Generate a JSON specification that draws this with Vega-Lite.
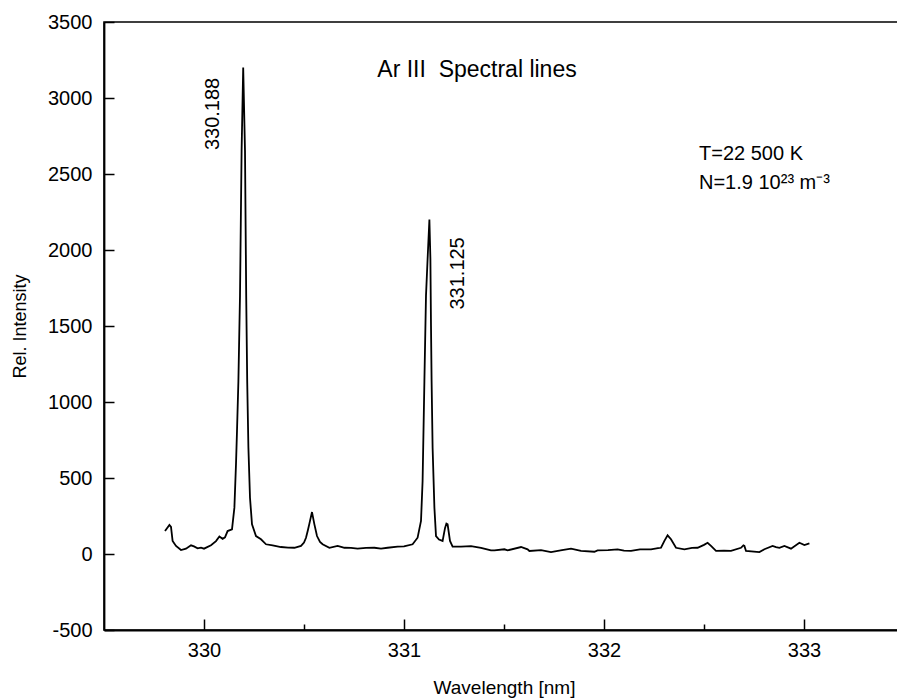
{
  "$schema": "https://vega.github.io/schema/vega-lite/v6.json",
  "width": 800,
  "height": 608,
  "autosize": {"type": "none"},
  "padding": {"left": 104, "top": 22, "right": 0, "bottom": 69},
  "background": "white",
  "config": {
    "view": {"stroke": "black", "strokeWidth": 1.6},
    "font": "Liberation Sans",
    "axis": {"domainColor": "black", "domainWidth": 1.8, "tickColor": "black", "tickWidth": 1.5, "labelColor": "black", "titleColor": "black", "grid": false, "labelFont": "Liberation Sans", "titleFont": "Liberation Sans", "titleFontWeight": "normal"}
  },
  "datasets": {
    "spectrum": [
      {"wl": 329.805, "I": 151}, {"wl": 329.827, "I": 191}, {"wl": 329.835, "I": 178}, {"wl": 329.843, "I": 86},
      {"wl": 329.860, "I": 53}, {"wl": 329.885, "I": 26}, {"wl": 329.910, "I": 35}, {"wl": 329.935, "I": 57},
      {"wl": 329.950, "I": 50}, {"wl": 329.968, "I": 37}, {"wl": 329.985, "I": 42}, {"wl": 330.000, "I": 35},
      {"wl": 330.035, "I": 58}, {"wl": 330.060, "I": 85}, {"wl": 330.077, "I": 115}, {"wl": 330.093, "I": 100},
      {"wl": 330.105, "I": 110}, {"wl": 330.118, "I": 151}, {"wl": 330.140, "I": 162}, {"wl": 330.152, "I": 305},
      {"wl": 330.160, "I": 592}, {"wl": 330.165, "I": 809}, {"wl": 330.172, "I": 1138}, {"wl": 330.180, "I": 1700},
      {"wl": 330.188, "I": 2652}, {"wl": 330.196, "I": 3200}, {"wl": 330.205, "I": 2652}, {"wl": 330.211, "I": 1700},
      {"wl": 330.216, "I": 1138}, {"wl": 330.222, "I": 700}, {"wl": 330.230, "I": 370}, {"wl": 330.240, "I": 195},
      {"wl": 330.260, "I": 118}, {"wl": 330.285, "I": 97}, {"wl": 330.310, "I": 64}, {"wl": 330.343, "I": 57},
      {"wl": 330.385, "I": 46}, {"wl": 330.420, "I": 42}, {"wl": 330.452, "I": 41}, {"wl": 330.485, "I": 53},
      {"wl": 330.500, "I": 75}, {"wl": 330.510, "I": 107}, {"wl": 330.520, "I": 160}, {"wl": 330.527, "I": 200},
      {"wl": 330.540, "I": 276}, {"wl": 330.552, "I": 195}, {"wl": 330.565, "I": 118}, {"wl": 330.580, "I": 80},
      {"wl": 330.593, "I": 64}, {"wl": 330.627, "I": 41}, {"wl": 330.668, "I": 53}, {"wl": 330.690, "I": 45},
      {"wl": 330.702, "I": 41}, {"wl": 330.735, "I": 40}, {"wl": 330.768, "I": 35}, {"wl": 330.810, "I": 40},
      {"wl": 330.852, "I": 41}, {"wl": 330.885, "I": 35}, {"wl": 330.918, "I": 41}, {"wl": 330.968, "I": 48},
      {"wl": 331.000, "I": 50}, {"wl": 331.043, "I": 64}, {"wl": 331.068, "I": 107}, {"wl": 331.085, "I": 217},
      {"wl": 331.093, "I": 480}, {"wl": 331.102, "I": 1138}, {"wl": 331.110, "I": 1700}, {"wl": 331.118, "I": 1941},
      {"wl": 331.127, "I": 2200}, {"wl": 331.132, "I": 1941}, {"wl": 331.135, "I": 1500}, {"wl": 331.138, "I": 1138},
      {"wl": 331.143, "I": 700}, {"wl": 331.152, "I": 305}, {"wl": 331.160, "I": 118}, {"wl": 331.175, "I": 95},
      {"wl": 331.193, "I": 86}, {"wl": 331.205, "I": 170}, {"wl": 331.212, "I": 200}, {"wl": 331.218, "I": 195},
      {"wl": 331.230, "I": 86}, {"wl": 331.243, "I": 48}, {"wl": 331.285, "I": 48}, {"wl": 331.335, "I": 52},
      {"wl": 331.385, "I": 41}, {"wl": 331.435, "I": 24}, {"wl": 331.452, "I": 24}, {"wl": 331.502, "I": 31},
      {"wl": 331.518, "I": 24}, {"wl": 331.585, "I": 46}, {"wl": 331.618, "I": 31}, {"wl": 331.627, "I": 20},
      {"wl": 331.685, "I": 26}, {"wl": 331.735, "I": 13}, {"wl": 331.790, "I": 25}, {"wl": 331.835, "I": 35},
      {"wl": 331.885, "I": 20}, {"wl": 331.952, "I": 15}, {"wl": 331.968, "I": 24}, {"wl": 332.020, "I": 25},
      {"wl": 332.068, "I": 31}, {"wl": 332.100, "I": 22}, {"wl": 332.135, "I": 20}, {"wl": 332.180, "I": 30},
      {"wl": 332.235, "I": 31}, {"wl": 332.270, "I": 38}, {"wl": 332.285, "I": 41}, {"wl": 332.302, "I": 86},
      {"wl": 332.318, "I": 123}, {"wl": 332.335, "I": 97}, {"wl": 332.360, "I": 41}, {"wl": 332.402, "I": 31},
      {"wl": 332.440, "I": 40}, {"wl": 332.468, "I": 41}, {"wl": 332.500, "I": 60}, {"wl": 332.518, "I": 74},
      {"wl": 332.535, "I": 53}, {"wl": 332.560, "I": 20}, {"wl": 332.600, "I": 22}, {"wl": 332.635, "I": 20},
      {"wl": 332.685, "I": 41}, {"wl": 332.697, "I": 57}, {"wl": 332.702, "I": 53}, {"wl": 332.710, "I": 20},
      {"wl": 332.777, "I": 13}, {"wl": 332.802, "I": 31}, {"wl": 332.843, "I": 53}, {"wl": 332.860, "I": 45},
      {"wl": 332.877, "I": 41}, {"wl": 332.902, "I": 53}, {"wl": 332.935, "I": 35}, {"wl": 332.977, "I": 74},
      {"wl": 333.002, "I": 59}, {"wl": 333.027, "I": 70}
    ],
    "peaks": [
      {"wl": 330.045, "I": 2895, "label": "330.188"},
      {"wl": 331.268, "I": 1846, "label": "331.125"}
    ],
    "notes": [
      {"wl": 332.475, "I": 2593, "label": "T=22 500 K"},
      {"wl": 332.475, "I": 2402, "label": "N=1.9 10²³ m⁻³"}
    ],
    "titles": [
      {"wl": 331.365, "I": 3185, "label": "Ar III\u00a0 Spectral lines"}
    ]
  },
  "layer": [
    {
      "data": {"name": "spectrum"},
      "mark": {"type": "line", "color": "black", "strokeWidth": 1.8, "clip": true},
      "encoding": {
        "x": {
          "field": "wl", "type": "quantitative",
          "scale": {"domain": [329.5, 333.5], "nice": false, "zero": false},
          "axis": {
            "title": "Wavelength [nm]", "titleFontSize": 19, "titlePadding": 18,
            "values": [330, 330.5, 331, 331.5, 332, 332.5, 333],
            "labelExpr": "datum.value % 1 === 0 ? '' + datum.value : ''",
            "labelFontSize": 20, "labelPadding": 21,
            "tickSize": {"condition": {"test": "datum.value % 1 === 0", "value": -11}, "value": -6}
          }
        },
        "y": {
          "field": "I", "type": "quantitative",
          "scale": {"domain": [-500, 3500], "nice": false, "zero": false},
          "axis": {
            "title": "Rel. Intensity", "titleFontSize": 18, "titleX": -79, "titleBaseline": "alphabetic",
            "values": [-500, -250, 0, 250, 500, 750, 1000, 1250, 1500, 1750, 2000, 2250, 2500, 2750, 3000, 3250, 3500],
            "labelExpr": "datum.value % 500 === 0 ? '' + datum.value : ''",
            "labelFontSize": 20, "labelPadding": 22,
            "tickSize": {"condition": {"test": "datum.value % 500 === 0", "value": -10}, "value": -5}
          }
        }
      }
    },
    {
      "data": {"name": "peaks"},
      "mark": {"type": "text", "angle": 270, "align": "center", "baseline": "middle", "fontSize": 20, "color": "black"},
      "encoding": {
        "x": {"field": "wl", "type": "quantitative"},
        "y": {"field": "I", "type": "quantitative"},
        "text": {"field": "label"}
      }
    },
    {
      "data": {"name": "notes"},
      "mark": {"type": "text", "align": "left", "baseline": "alphabetic", "fontSize": 20, "color": "black"},
      "encoding": {
        "x": {"field": "wl", "type": "quantitative"},
        "y": {"field": "I", "type": "quantitative"},
        "text": {"field": "label"}
      }
    },
    {
      "data": {"name": "titles"},
      "mark": {"type": "text", "align": "center", "baseline": "middle", "fontSize": 23, "color": "black"},
      "encoding": {
        "x": {"field": "wl", "type": "quantitative"},
        "y": {"field": "I", "type": "quantitative"},
        "text": {"field": "label"}
      }
    }
  ]
}
